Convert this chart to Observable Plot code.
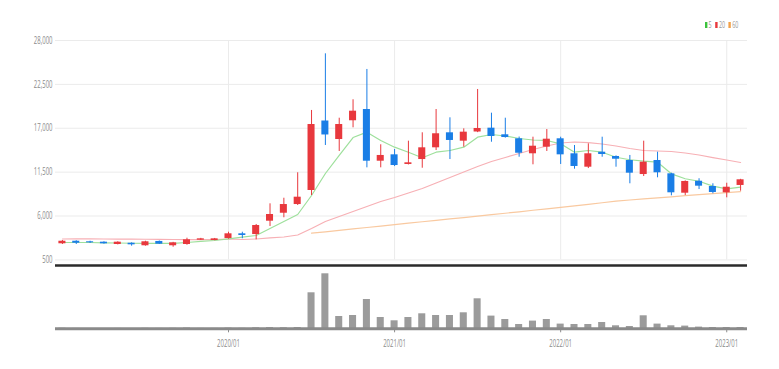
<!DOCTYPE html>
<html><head><meta charset="utf-8">
<script src="https://cdn.jsdelivr.net/npm/d3@7"></script>
<script src="https://cdn.jsdelivr.net/npm/@observablehq/plot@0.6"></script>
<style>
body{margin:0;background:#fff;font-family:"Open Sans",sans-serif;}
#wrap{position:relative;width:779px;height:369px;overflow:hidden;background:#fff;}
#price{position:absolute;left:0;top:0;}
#vol{position:absolute;left:0;top:262px;}
#legend{position:absolute;left:705px;top:19px;font-size:9px;line-height:12px;color:#999;transform:scaleX(0.6);transform-origin:0 0;white-space:nowrap;}
#legend .sw{display:inline-block;width:4px;height:6px;margin-right:2px;vertical-align:0px;}
#legend .it{margin-right:6px;}
</style></head><body>
<div id="wrap"><div id="price"></div><div id="vol"></div><div id="legend"></div></div>
<script>
const months = ["2019/01","2019/02","2019/03","2019/04","2019/05","2019/06","2019/07","2019/08","2019/09","2019/10","2019/11","2019/12",
"2020/01","2020/02","2020/03","2020/04","2020/05","2020/06","2020/07","2020/08","2020/09","2020/10","2020/11","2020/12",
"2021/01","2021/02","2021/03","2021/04","2021/05","2021/06","2021/07","2021/08","2021/09","2021/10","2021/11","2021/12",
"2022/01","2022/02","2022/03","2022/04","2022/05","2022/06","2022/07","2022/08","2022/09","2022/10","2022/11","2022/12",
"2023/01","2023/02"];
const open = [2520,2840,2770,2720,2430,2590,2270,2810,2270,2430,2970,2930,3180,3770,3680,5350,6350,7440,9200,17910,15590,17940,19350,12870,13670,12460,13080,14550,16430,15380,16530,17010,16180,15680,13800,14630,15680,13800,12120,14000,13460,12960,11200,12960,11290,8860,10360,9700,8910,9830];
const close = [2840,2590,2640,2520,2720,2390,2770,2470,2640,3020,3140,3140,3770,3560,4810,6190,7440,8360,17470,16160,17470,19140,12870,13590,12330,12670,14550,16310,15470,16510,16970,15970,15840,13870,14750,15630,13670,12210,13800,13710,13120,11370,12750,11420,8910,10330,9740,8950,9610,10540];
const high = [2930,2900,2840,2770,2770,2640,2840,2870,2700,3220,3200,3190,3970,3970,4940,7530,8230,11420,19230,26330,18260,20570,24370,14930,14340,15380,16430,19350,18310,16930,21860,18890,18260,15900,15880,16840,15880,14840,15050,15880,13540,13590,15380,14000,11370,10400,10670,10040,10110,10600];
const low = [2430,2430,2560,2470,2380,2220,2220,2430,2090,2340,2940,2900,3100,3150,3020,4690,5780,7320,8570,14840,14090,17060,12040,12040,12200,12400,11990,14210,13080,14630,16450,15250,15760,13370,12420,14090,12460,11870,11950,13370,12120,10040,10950,10790,8530,8570,9320,8790,8280,9110];
const ma5 = [2680,2680,2680,2640,2620,2590,2560,2560,2560,2680,2810,2930,3140,3350,3560,4440,5310,6190,8570,11330,13590,15840,16510,15470,14630,14000,13300,14000,14210,14630,15880,16220,16030,15720,15530,15470,15050,14000,14210,14000,13370,13050,12870,12750,11290,10670,10360,9740,9410,9610];
const ma20 = [3120,3130,3130,3120,3110,3100,3090,3080,3060,3050,3040,3030,3120,3060,3120,3250,3370,3620,4440,5310,5940,6570,7190,7820,8320,8890,9450,10140,10830,11520,12210,12830,13330,13840,14340,14780,15150,15280,15210,15030,14780,14460,14210,14150,14090,13900,13650,13330,13020,12710];
const ma60 = [null,null,null,null,null,null,null,null,null,null,null,null,null,null,null,null,null,null,3850,4020,4210,4390,4560,4740,4920,5100,5280,5450,5640,5810,5990,6180,6350,6530,6720,6900,7090,7280,7470,7660,7860,8010,8150,8280,8410,8550,8670,8810,8940,9070];
const volume = [60000,40000,30000,30000,40000,30000,50000,40000,50000,80000,40000,40000,70000,50000,100000,120000,100000,130000,3600000,5500000,1230000,1330000,2930000,1130000,800000,1130000,1500000,1330000,1330000,1600000,3000000,1270000,930000,430000,770000,930000,470000,430000,430000,630000,300000,230000,1300000,470000,300000,270000,170000,130000,130000,130000];
const yTicks = [500,6000,11500,17000,22500,28000];
const xTickLabels = ["2020/01","2021/01","2022/01","2023/01"];
const maNames = ["5","20","60"];

const RED = "#e8383d", BLUE = "#1a7ee6";
const maColors = ["#9ee09c","#f7b0b5","#f9c9a0"];
const legendColors = ["#3cc23c","#e8383d","#f2a14a"];

const rows = months.map((m, i) => ({month: m, open: open[i], close: close[i], high: high[i], low: low[i],
  ma5: ma5[i], ma20: ma20[i], ma60: ma60[i], volume: volume[i]}));
const up = d => d.close >= d.open;
const down = d => d.close < d.open;

const price = Plot.plot({
  width: 779, height: 270, marginTop: 40, marginBottom: 10.6, marginLeft: 55, marginRight: 32,
  style: {fontFamily: "Open Sans", fontSize: "10px", color: "#8c8c8c", background: "transparent"},
  x: {type: "band", domain: months, padding: 0, round: false, axis: null},
  y: {domain: [500, 28000], ticks: yTicks, tickFormat: d3.format(","), tickSize: 0, tickPadding: 3, label: null},
  marks: [
    Plot.ruleY(yTicks, {stroke: "#ebebeb"}),
    Plot.ruleX(xTickLabels, {stroke: "#ebebeb"}),
    Plot.line(rows, {x: "month", y: "ma60", stroke: maColors[2], strokeWidth: 1.2}),
    Plot.line(rows, {x: "month", y: "ma20", stroke: maColors[1], strokeWidth: 1.2}),
    Plot.line(rows, {x: "month", y: "ma5", stroke: maColors[0], strokeWidth: 1.2}),
    Plot.ruleX(rows, {filter: up, x: "month", y1: "low", y2: "high", stroke: RED, strokeWidth: 1}),
    Plot.ruleX(rows, {filter: down, x: "month", y1: "low", y2: "high", stroke: BLUE, strokeWidth: 1}),
    Plot.barY(rows, {filter: up, x: "month", y1: "open", y2: "close", fill: RED, insetLeft: 3.4, insetRight: 3.4}),
    Plot.barY(rows, {filter: down, x: "month", y1: "open", y2: "close", fill: BLUE, insetLeft: 3.4, insetRight: 3.4})
  ]
});
document.getElementById("price").appendChild(price);

const vol = Plot.plot({
  width: 779, height: 107, marginTop: 3, marginBottom: 40.7, marginLeft: 55, marginRight: 32,
  style: {fontFamily: "Open Sans", fontSize: "10px", color: "#8c8c8c", background: "transparent"},
  x: {type: "band", domain: months, padding: 0, round: false, ticks: xTickLabels, tickSize: 4, tickPadding: 7, label: null},
  y: {domain: [0, 6330000], axis: null},
  marks: [
    Plot.barY(rows, {x: "month", y: "volume", fill: "#9b9b9b", insetLeft: 3.4, insetRight: 3.4}),
    Plot.ruleY([0], {stroke: "#8a8a8a", strokeWidth: 3}),
    Plot.ruleY([6330000], {stroke: "#2b2b2b", strokeWidth: 2.5})
  ]
});
document.getElementById("vol").appendChild(vol);

function squeeze(svg, k) {
  svg.querySelectorAll("text").forEach(t => {
    const L = t.getComputedTextLength();
    if (L > 0) {
      t.setAttribute("textLength", (L * k).toFixed(2));
      t.setAttribute("lengthAdjust", "spacingAndGlyphs");
    }
  });
}
squeeze(price, 0.6);
squeeze(vol, 0.6);

const legend = document.getElementById("legend");
maNames.forEach((name, i) => {
  const sw = document.createElement("span");
  sw.className = "sw";
  sw.style.background = legendColors[i];
  const tx = document.createElement("span");
  tx.className = "it";
  tx.textContent = name;
  legend.appendChild(sw);
  legend.appendChild(tx);
});
</script>
</body></html>
